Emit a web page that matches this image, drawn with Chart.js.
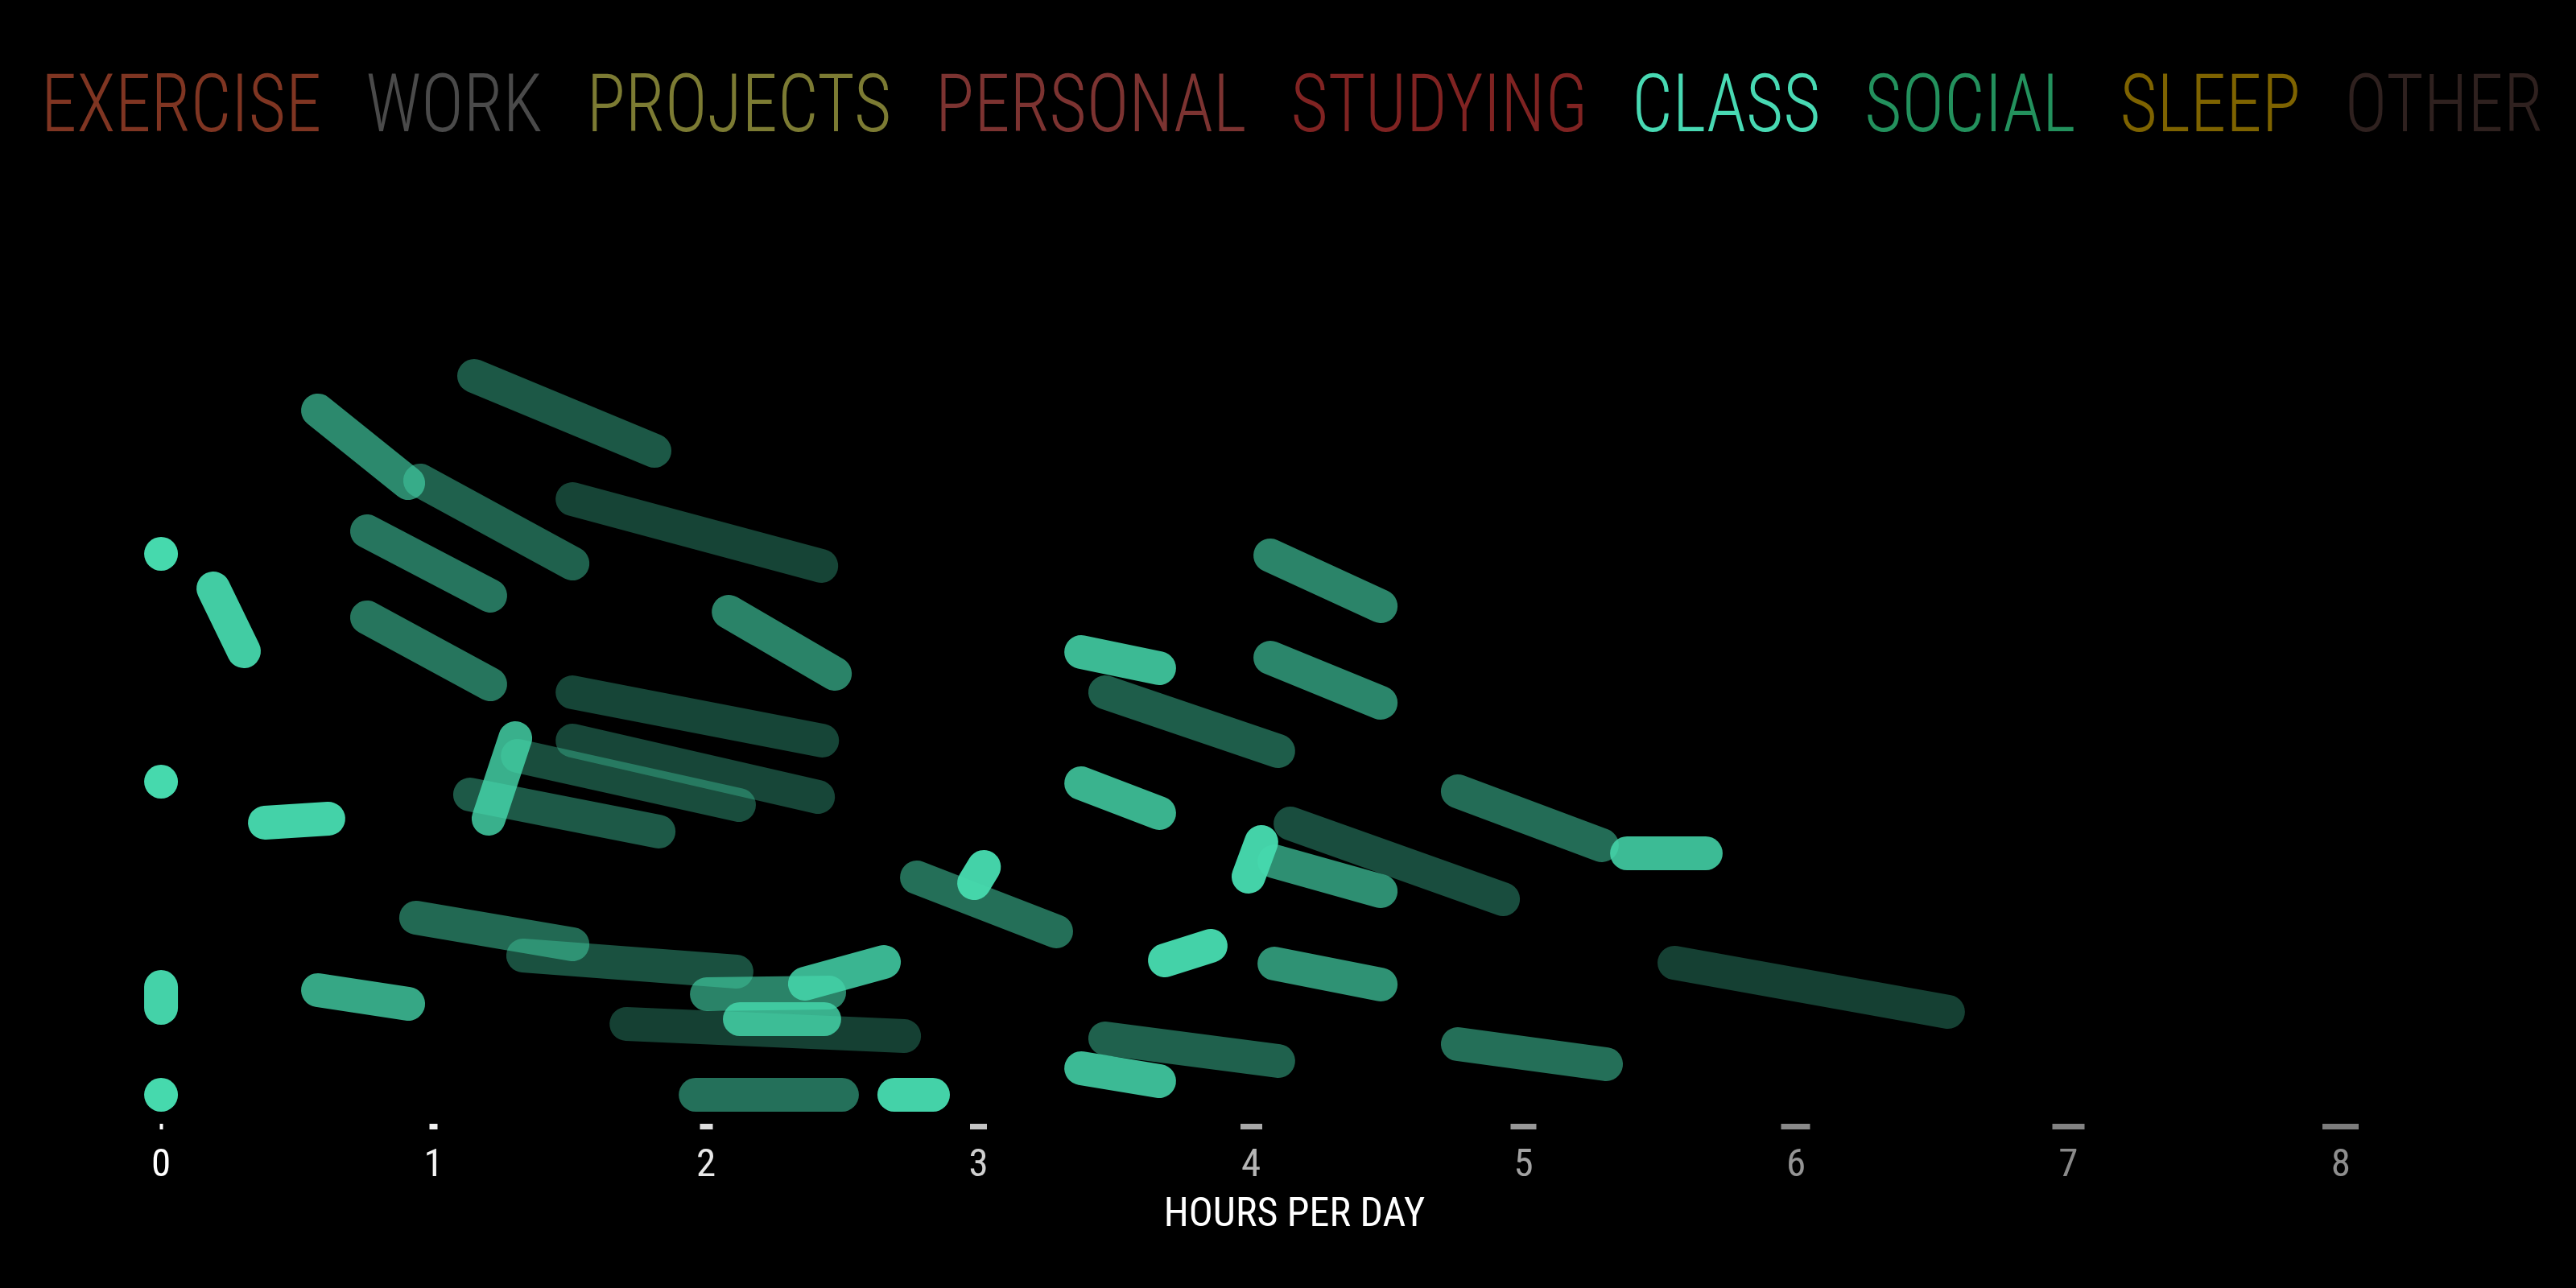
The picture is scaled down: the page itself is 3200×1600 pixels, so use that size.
<!DOCTYPE html>
<html>
<head>
<meta charset="utf-8">
<script src="https://cdn.jsdelivr.net/npm/chart.js@4.4.1/dist/chart.umd.min.js"></script>
<style>
  html, body { margin: 0; padding: 0; background: #000; overflow: hidden; }
  canvas { display: block; }
</style>
</head>
<body>
<canvas id="c" width="3200" height="1600"></canvas>
<script>
// ---------- DATA ----------
const categories = ['EXERCISE', 'WORK', 'PROJECTS', 'PERSONAL', 'STUDYING', 'CLASS', 'SOCIAL', 'SLEEP', 'OTHER'];
const hourTicks = [0, 1, 2, 3, 4, 5, 6, 7, 8];
const axisTitle = 'HOURS PER DAY';

// resting points (hours, vertical level 0-100)
const dotHours  = [0, 0, 0];
const dotLevels = [70.8, 42.5, 3.6];

// moving points (trails): start -> end
const trailStartHours  = [0.000, 0.192, 0.576, 1.149, 0.951, 0.756, 0.756, 1.510, 1.510, 2.083, 1.510, 1.309, 1.134, 1.300, 0.381,
                          3.377, 3.465, 4.071, 4.071, 3.377, 2.774, 2.984, 4.038, 4.086, 4.145, 4.759, 5.380, 5.554, 4.759, 3.684,
                          4.086, 3.465, 3.377, 2.691, 1.962, 0.576, 0.936, 1.329, 1.708, 2.363, 2.003, 2.124];
const trailStartLevels = [17.0, 66.5, 88.6, 92.9, 79.9, 73.6, 62.9, 77.6, 53.6, 63.6, 47.6, 45.7, 40.9, 47.9, 37.4,
                          58.6, 53.6, 70.6, 57.9, 42.3, 30.6, 29.9, 35.0, 32.6, 37.3, 41.3, 33.6, 20.0, 9.9, 20.3,
                          19.9, 10.6, 6.9, 3.6, 3.6, 16.6, 25.6, 20.9, 12.4, 17.4, 16.1, 13.0];
const trailEndHours    = [0.000, 0.304, 0.907, 1.811, 1.510, 1.208, 1.208, 2.423, 2.426, 2.473, 2.411, 2.121, 1.826, 1.202, 0.614,
                          3.663, 4.100, 4.476, 4.476, 3.663, 3.285, 3.020, 3.991, 4.476, 4.925, 5.288, 5.669, 6.558, 5.303, 3.852,
                          4.476, 4.100, 3.663, 2.833, 2.499, 0.907, 1.510, 2.112, 2.727, 2.653, 2.452, 2.434];
const trailEndLevels   = [14.4, 58.7, 79.6, 83.6, 69.6, 65.6, 54.6, 69.3, 47.6, 55.9, 40.6, 39.6, 36.3, 37.9, 37.9,
                          56.6, 46.3, 64.3, 52.3, 38.6, 23.9, 31.9, 30.7, 28.9, 27.9, 34.6, 33.6, 13.9, 7.4, 22.1,
                          17.3, 7.8, 5.3, 3.6, 3.6, 14.9, 22.3, 18.9, 10.9, 20.1, 16.3, 13.0];

// ---------- STYLE ----------
const categoryColors = ['#7f3522', '#4a4a4a', '#7c7b33', '#7c3331', '#802322', '#48d9b3', '#23915d', '#7e6300', '#2f211f'];
const pointRGB = [70, 217, 173];
const tickLabelColors = ['#ffffff', '#f4f4f4', '#e8e8e8', '#d0d0d0', '#b6b6b6', '#a2a2a2', '#949494', '#8a8a8a', '#8e8e8e'];
const tickMarkWidths  = [4, 10, 16, 21, 27, 32, 36, 40, 45];
const tickMarkColors  = ['#ffffff', '#f0f0f0', '#dedede', '#c4c4c4', '#a8a8a8', '#989898', '#8a8a8a', '#828282', '#7c7c7c'];
const FONT = '"Roboto Condensed", Roboto, sans-serif';

const bgPlugin = {
  id: 'bg',
  beforeDraw(chart) {
    const c = chart.ctx;
    c.save();
    c.fillStyle = '#000';
    c.fillRect(0, 0, chart.width, chart.height);
    c.restore();
  }
};

const legendPlugin = {
  id: 'topLegend',
  afterDraw(chart) {
    const c = chart.ctx;
    c.save();
    c.font = '300 100px ' + FONT;
    c.textBaseline = 'alphabetic';
    const widths = categories.map(t => c.measureText(t).width);
    const sum = widths.reduce((a, b) => a + b, 0);
    const gap = 55;
    const rowWidth = 3108;
    const s = Math.max(0.55, Math.min(1.2, (rowWidth - gap * (categories.length - 1)) / sum));
    let x = chart.width / 2 + 5 - rowWidth / 2;
    categories.forEach((t, i) => {
      c.setTransform(s, 0, 0, 1, x, 163);
      c.fillStyle = categoryColors[i];
      c.fillText(t, 0, 0);
      x += widths[i] * s + gap;
    });
    c.restore();
  }
};

const datasets = [];
datasets.push({
  type: 'scatter',
  data: dotHours.map((h, i) => ({ x: h, y: dotLevels[i] })),
  pointRadius: 21,
  pointHoverRadius: 21,
  backgroundColor: `rgb(${pointRGB.join(',')})`,
  borderWidth: 0,
  clip: false
});
trailStartHours.forEach((h, i) => {
  datasets.push({
    type: 'line',
    isTrail: true,
    data: [{ x: h, y: trailStartLevels[i] }, { x: trailEndHours[i], y: trailEndLevels[i] }],
    borderColor: `rgba(${pointRGB.join(',')},0.5)`,
    borderWidth: 42,
    borderCapStyle: 'round',
    pointRadius: 0,
    pointHoverRadius: 0,
    fill: false,
    tension: 0,
    clip: false
  });
});

const chart = new Chart(document.getElementById('c'), {
  type: 'scatter',
  data: { datasets },
  options: {
    responsive: false,
    animation: false,
    devicePixelRatio: 1,
    events: [],
    layout: { padding: { top: 396, left: 108, right: 92, bottom: 73 } },
    plugins: { legend: { display: false }, tooltip: { enabled: false } },
    scales: {
      x: {
        type: 'linear',
        min: -0.272,
        max: 8.591,
        afterBuildTicks(scale) { scale.ticks = hourTicks.map(v => ({ value: v })); },
        ticks: {
          autoSkip: false,
          maxRotation: 0,
          padding: 21,
          color: ctx => tickLabelColors[ctx.index] || '#888',
          font: { family: FONT, size: 49, weight: '400', lineHeight: 1.0 }
        },
        grid: {
          display: true,
          drawOnChartArea: false,
          drawTicks: true,
          tickLength: 7,
          lineWidth: 1,
          color: 'rgba(0,0,0,0)',
          tickWidth: ctx => tickMarkWidths[ctx.index] || 40,
          tickColor: ctx => tickMarkColors[ctx.index] || '#888'
        },
        border: { display: false },
        title: {
          display: true,
          text: axisTitle,
          color: '#ffffff',
          font: { family: FONT, size: 50, weight: '400', lineHeight: 0.66 },
          padding: { top: 0, bottom: 0 }
        }
      },
      y: { type: 'linear', min: 0, max: 100, display: false }
    }
  },
  plugins: [bgPlugin, legendPlugin]
});

// trail brightness depends on how far the point travelled during the exposure
const xs = chart.scales.x, ys = chart.scales.y;
chart.data.datasets.forEach(ds => {
  if (!ds.isTrail) return;
  const a = ds.data[0], b = ds.data[1];
  const L = Math.hypot(xs.getPixelForValue(b.x) - xs.getPixelForValue(a.x),
                       ys.getPixelForValue(b.y) - ys.getPixelForValue(a.y));
  const al = Math.min(0.97, 110 / (L + 30));
  ds.borderColor = `rgba(${pointRGB.join(',')},${al.toFixed(3)})`;
});
chart.update();
</script>
</body>
</html>
